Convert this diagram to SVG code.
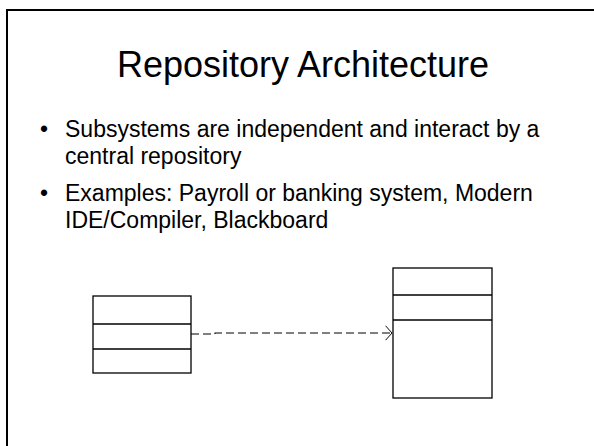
<svg xmlns="http://www.w3.org/2000/svg" width="594" height="446" viewBox="0 0 594 446">
<defs>
<style>
.t{font-family:"Liberation Sans",Arial,sans-serif;fill:#000}
.box{fill:#fff;stroke:#000;stroke-width:1.3}
.ln{stroke:#000;stroke-width:1.3;fill:none}
</style>
<marker id="open" viewBox="0 0 10 20" refX="9" refY="10" markerWidth="8" markerHeight="17" markerUnits="userSpaceOnUse" orient="auto">
<path d="M1,1 L9,10 L1,19" fill="none" stroke="#000" stroke-width="1.2"/>
</marker>
</defs>
<rect width="594" height="446" fill="#fff"/>
<rect x="7" y="10" width="620" height="470" fill="none" stroke="#000" stroke-width="2"/>
<text class="t" x="303" y="77" font-size="36" text-anchor="middle">Repository Architecture</text>
<g class="t" font-size="23">
<text x="40" y="137">•</text>
<text x="65" y="137">Subsystems are independent and interact by a</text>
<text x="65" y="164">central repository</text>
<text x="40" y="201">•</text>
<text x="65" y="201">Examples: Payroll or banking system, Modern</text>
<text x="65" y="228">IDE/Compiler, Blackboard</text>
</g>
<g id="connectors">
<path d="M191,334 H215 V333 H392" fill="none" stroke="#000" stroke-width="1.1" stroke-dasharray="8,4" marker-end="url(#open)"/>
</g>
<g id="left-node">
<rect class="box" x="93" y="296" width="98" height="77"/>
<line class="ln" x1="93" y1="324" x2="191" y2="324"/>
<line class="ln" x1="93" y1="349" x2="191" y2="349"/>
</g>
<g id="right-node">
<rect class="box" x="393" y="268" width="99" height="130"/>
<line class="ln" x1="393" y1="295" x2="492" y2="295"/>
<line class="ln" x1="393" y1="320" x2="492" y2="320"/>
</g>
</svg>
